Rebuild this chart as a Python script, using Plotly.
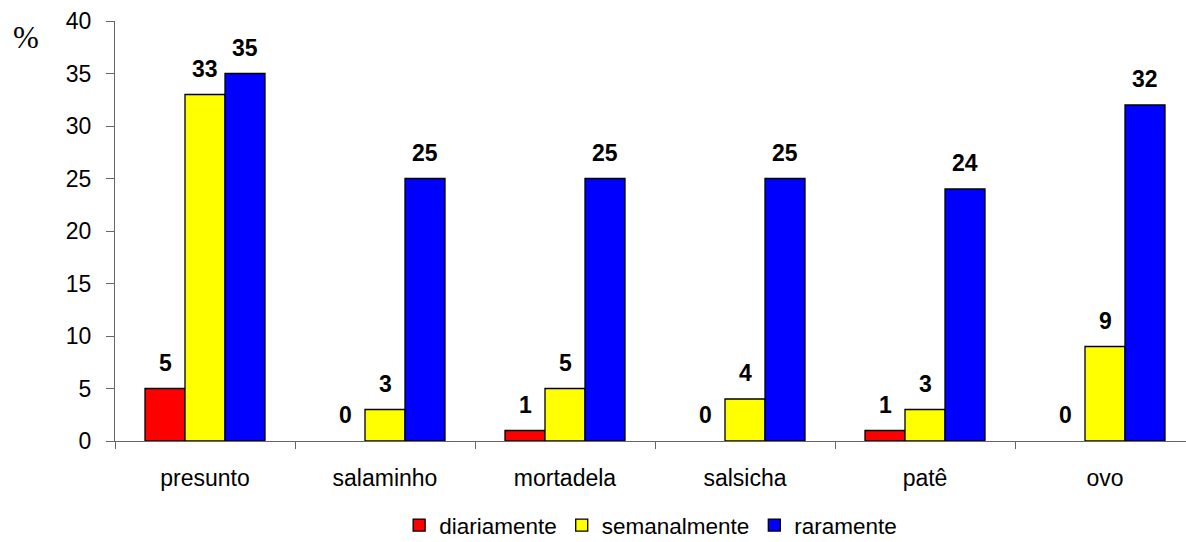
import plotly.graph_objects as go

categories = ["presunto", "salaminho", "mortadela", "salsicha", "patê", "ovo"]
diariamente = [5, 0, 1, 0, 1, 0]
semanalmente = [33, 3, 5, 4, 3, 9]
raramente = [35, 25, 25, 25, 24, 32]
y_ticks = [0, 5, 10, 15, 20, 25, 30, 35, 40]

series = [
    ("diariamente", diariamente, "#ff0000", -40),
    ("semanalmente", semanalmente, "#ffff00", 0),
    ("raramente", raramente, "#0000ff", 40),
]

FONT = "Liberation Sans, Arial, sans-serif"
SIZE = 23

fig = go.Figure()
annotations = []
for name, vals, color, shift in series:
    # zero-height bars get no outline so only their label shows
    widths = [1.3 if v > 0 else 0 for v in vals]
    fig.add_trace(go.Bar(
        name=name, x=categories, y=vals,
        marker=dict(color=color, line=dict(color="#000000", width=widths)),
    ))
    for cat, v in zip(categories, vals):
        annotations.append(dict(
            x=cat, y=v, xref="x", yref="y", text=f"<b>{v}</b>",
            showarrow=False, xshift=shift, yshift=11, yanchor="bottom",
            font=dict(family=FONT, size=SIZE, color="#000000"),
        ))

annotations.append(dict(
    x=-0.0831, y=0.9607, xref="paper", yref="paper", text="%",
    showarrow=False, xanchor="center", yanchor="middle",
    font=dict(family="'Liberation Serif', 'Times New Roman', serif", size=31, color="#000000"),
))

fig.update_layout(
    width=1186, height=542,
    margin=dict(l=115, r=0, t=21, b=101, autoexpand=False),
    paper_bgcolor="#ffffff", plot_bgcolor="#ffffff",
    barmode="group", bargap=1/3, bargroupgap=0,
    showlegend=True,
    legend=dict(
        orientation="h", x=0.2653, xanchor="left", y=-0.201, yanchor="middle",
        font=dict(family=FONT, size=22.5, color="#000000"),
        itemwidth=30, tracegroupgap=0,
    ),
    annotations=annotations,
    font=dict(family=FONT, size=SIZE, color="#000000"),
)

fig.update_xaxes(
    range=[-0.5, 5.45], showline=True, linecolor="#666666", linewidth=1.3,
    ticks="outside", tickson="boundaries", ticklen=7, tickcolor="#666666",
    tickwidth=1.3, showgrid=False, zeroline=False, ticklabelstandoff=16,
    tickfont=dict(family=FONT, size=SIZE, color="#000000"),
)
fig.update_yaxes(
    range=[0, 40], tickvals=y_ticks, showline=True, linecolor="#666666",
    linewidth=1.3, ticks="outside", ticklen=8, tickcolor="#666666",
    tickwidth=1.3, showgrid=False, zeroline=False, ticklabelstandoff=10,
    tickfont=dict(family=FONT, size=SIZE, color="#000000"),
)

fig.write_html("out.html")
